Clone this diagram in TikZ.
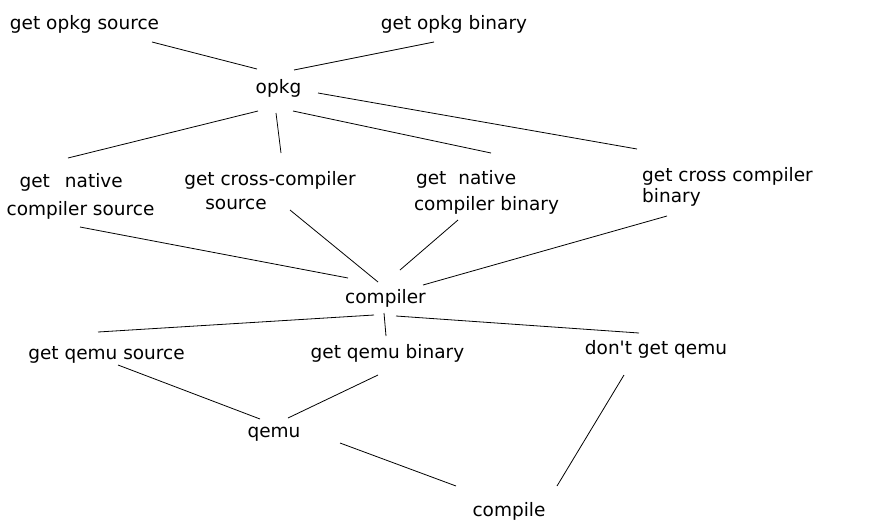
\documentclass[tikz,border=0pt]{standalone}
\usepackage{fontspec}
\setmainfont{DejaVu Sans}[Ligatures=TeXOff]
\tikzset{
  lbl/.style={inner sep=0pt, outer sep=0pt, anchor=center, align=left, font=\fontsize{18.5}{22.5}\selectfont},
  conn/.style={line width=0.8pt, black}
}
\begin{document}
\begin{tikzpicture}[x=1pt,y=-1pt]
\useasboundingbox[fill=white] (0,0) rectangle (878,531);
% nodes
\node[lbl] (src) at (84.5,24) {get opkg source};
\node[lbl] (bin) at (454,24) {get opkg binary};
\node[lbl] (opkg) at (278.5,88) {opkg};
\node[lbl] (ncs) at (80.5,196) {\hspace*{13pt}get\hspace{15pt}native\\[5.5pt]compiler source};
\node[lbl] (ccs) at (270,191) {get cross-compiler\\[1.5pt]\hspace*{21pt}source};
\node[lbl] (ncb) at (486.5,192) {\hspace*{2pt}get\hspace{12pt}native\\[3.5pt]compiler binary};
\node[lbl] (ccb) at (727.5,186.5) {get cross compiler\\[-1.5pt]binary};
\node[lbl] (comp) at (385.5,298) {compiler};
\node[lbl] (qs) at (106.5,355) {get qemu source};
\node[lbl] (qb) at (387.5,353) {get qemu binary};
\node[lbl] (nq) at (656,349) {don't get qemu};
\node[lbl] (qemu) at (274,434) {qemu};
\node[lbl] (cpl) at (509,511) {compile};
% connectors
\draw[conn] ([shift={(67.5,18)}]src.center) -- ([shift={(-21.5,-19)}]opkg.center);
\draw[conn] ([shift={(-20,18)}]bin.center) -- ([shift={(15.5,-18)}]opkg.center);
\draw[conn] ([shift={(-20.5,23)}]opkg.center) -- ([shift={(-12.5,-38)}]ncs.center);
\draw[conn] ([shift={(-2.5,25)}]opkg.center) -- ([shift={(11,-38)}]ccs.center);
\draw[conn] ([shift={(14.5,23)}]opkg.center) -- ([shift={(4.5,-39)}]ncb.center);
\draw[conn] ([shift={(39.5,5)}]opkg.center) -- ([shift={(-90.5,-37.5)}]ccb.center);
\draw[conn] ([shift={(-0.5,31)}]ncs.center) -- ([shift={(-37.5,-20)}]comp.center);
\draw[conn] ([shift={(20,19)}]ccs.center) -- ([shift={(-7.5,-16)}]comp.center);
\draw[conn] ([shift={(-28.5,28)}]ncb.center) -- ([shift={(14.5,-28)}]comp.center);
\draw[conn] ([shift={(-60.5,29.5)}]ccb.center) -- ([shift={(37.5,-13)}]comp.center);
\draw[conn] ([shift={(-11.5,17)}]comp.center) -- ([shift={(-8.5,-23)}]qs.center);
\draw[conn] ([shift={(-1.5,15)}]comp.center) -- ([shift={(-1.5,-17)}]qb.center);
\draw[conn] ([shift={(10.5,18)}]comp.center) -- ([shift={(-17,-16)}]nq.center);
\draw[conn] ([shift={(11.5,10)}]qs.center) -- ([shift={(-14,-15)}]qemu.center);
\draw[conn] ([shift={(-9.5,22)}]qb.center) -- ([shift={(14,-16)}]qemu.center);
\draw[conn] ([shift={(66,9)}]qemu.center) -- ([shift={(-53,-25)}]cpl.center);
\draw[conn] ([shift={(-32,26)}]nq.center) -- ([shift={(48,-25)}]cpl.center);
\end{tikzpicture}
\end{document}
